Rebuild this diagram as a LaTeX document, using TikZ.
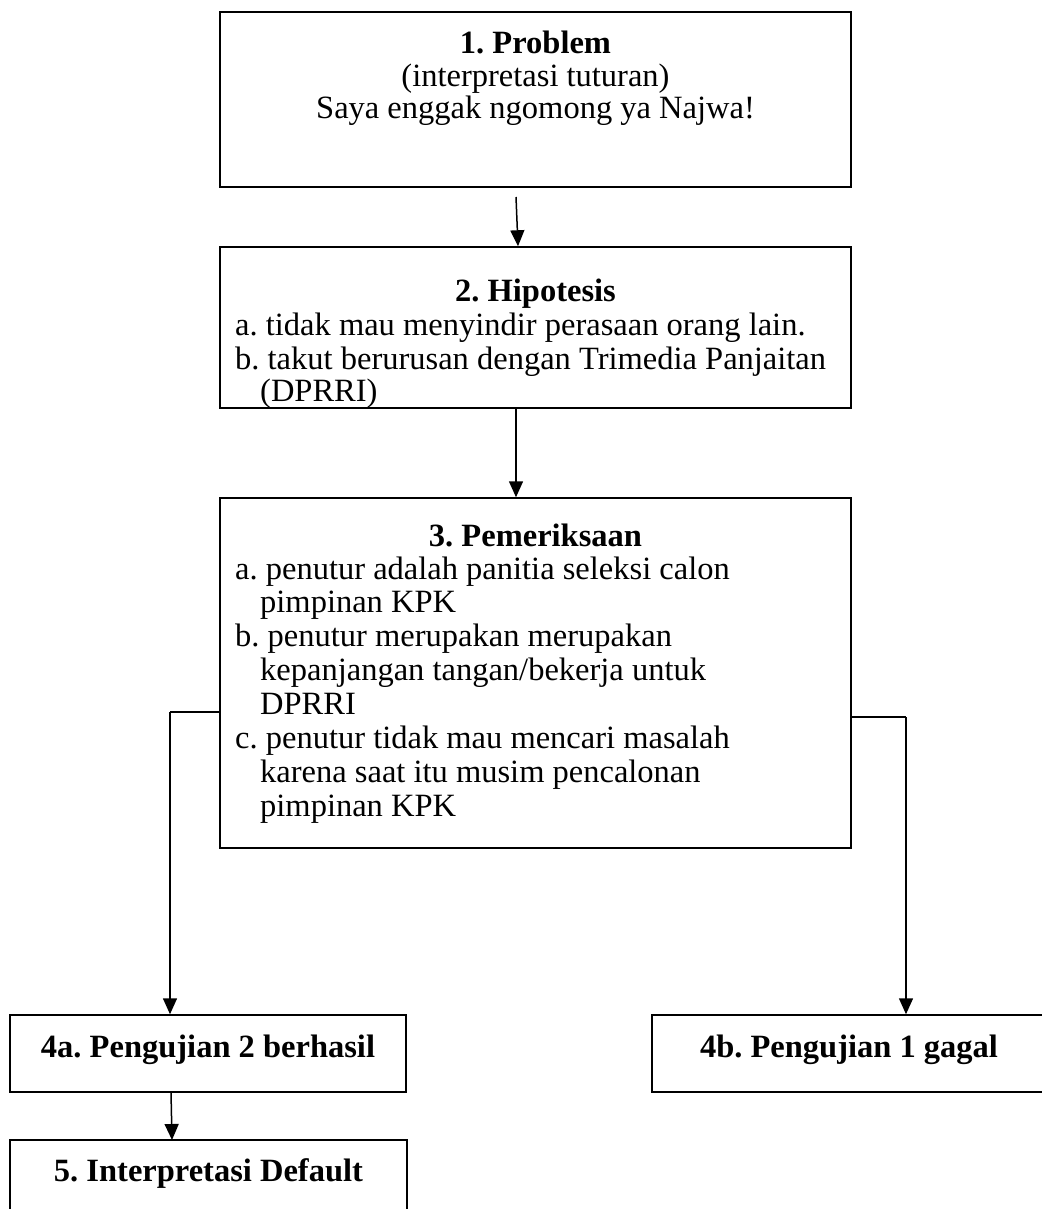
\documentclass[tikz,border=0pt]{standalone}
\usepackage{fontspec}
\setmainfont{Liberation Serif}
\usetikzlibrary{arrows.meta}
\frenchspacing
\tikzset{
  box/.style={draw, line width=1.5pt, rectangle, inner sep=0pt},
  arr/.style={line width=1.5pt, -{Triangle[width=14pt,length=16pt]}},
  conn/.style={line width=1.5pt},
  txt/.style={anchor=base west, inner sep=0pt, font=\fontsize{32.5}{34}\selectfont},
  ctxt/.style={anchor=base, inner sep=0pt, font=\fontsize{32.5}{34}\selectfont},
  htxt/.style={anchor=base, inner sep=0pt, font=\fontsize{32.5}{34}\selectfont\bfseries},
}
\begin{document}
\begin{tikzpicture}[x=1pt,y=-1pt]
\useasboundingbox[fill=white] (0,0) rectangle (1041,1209);
% boxes
\node[box, minimum width=631pt, minimum height=175pt] (b1) at (535.5,99.5) {};
\node[box, minimum width=631pt, minimum height=161pt] (b2) at (535.5,327.5) {};
\node[box, minimum width=631pt, minimum height=350pt] (b3) at (535.5,673) {};
\node[box, minimum width=396pt, minimum height=77pt] (b4a) at (208,1053.5) {};
\node[box, minimum width=394pt, minimum height=77pt] (b4b) at (849,1053.5) {};
\node[box, minimum width=397pt, minimum height=80pt] (b5) at (208.5,1180) {};
% box 1 text
\node[htxt] (t1a) at (535.5,54) {1. Problem};
\node[ctxt] (t1b) at (535.5,87) {(interpretasi tuturan)};
\node[ctxt] (t1c) at (535.5,119) {Saya enggak ngomong ya Najwa!};
% box 2 text
\node[htxt] (t2a) at (535.5,301) {2. Hipotesis};
\node[txt] (t2b) at (235,335) {a. tidak mau menyindir perasaan orang lain.};
\node[txt] (t2c) at (235,369) {b. takut berurusan dengan Trimedia Panjaitan};
\node[txt] (t2d) at (260,401) {(DPRRI)};
% box 3 text
\node[htxt] (t3a) at (535.5,546) {3. Pemeriksaan};
\node[txt] (t3b) at (235,579) {a. penutur adalah panitia seleksi calon};
\node[txt] (t3c) at (260,612) {pimpinan KPK};
\node[txt] (t3d) at (235,646) {b. penutur merupakan merupakan};
\node[txt] (t3e) at (260,680) {kepanjangan tangan/bekerja untuk};
\node[txt] (t3f) at (260,714) {DPRRI};
\node[txt] (t3g) at (235,748) {c. penutur tidak mau mencari masalah};
\node[txt] (t3h) at (260,782) {karena saat itu musim pencalonan};
\node[txt] (t3i) at (260,816) {pimpinan KPK};
% box 4/5 text
\node[htxt] (t4a) at (208,1057) {4a. Pengujian 2 berhasil};
\node[htxt] (t4b) at (849,1057) {4b. Pengujian 1 gagal};
\node[htxt] (t5) at (208.5,1181) {5. Interpretasi Default};
% connectors
\coordinate (s1) at (516,197);
\draw[arr] (s1) -- (b2.north -| 518,0);
\draw[arr] (b3.north |- b2.south) ++(-19.5,0) coordinate (s2) -- (s2 |- b3.north);
\coordinate (l1) at (b3.west |- 0,712);
\coordinate (l2) at (170,712);
\draw[conn] (l1) -- (l2);
\draw[arr] (l2) -- (l2 |- b4a.north);
\coordinate (r1) at (b3.east |- 0,717);
\coordinate (r2) at (906,717);
\draw[conn] (r1) -- (r2);
\draw[arr] (r2) -- (r2 |- b4b.north);
\coordinate (f1) at (171,1092);
\draw[arr] (f1) -- (172,1140) coordinate (f2);
\end{tikzpicture}
\end{document}
